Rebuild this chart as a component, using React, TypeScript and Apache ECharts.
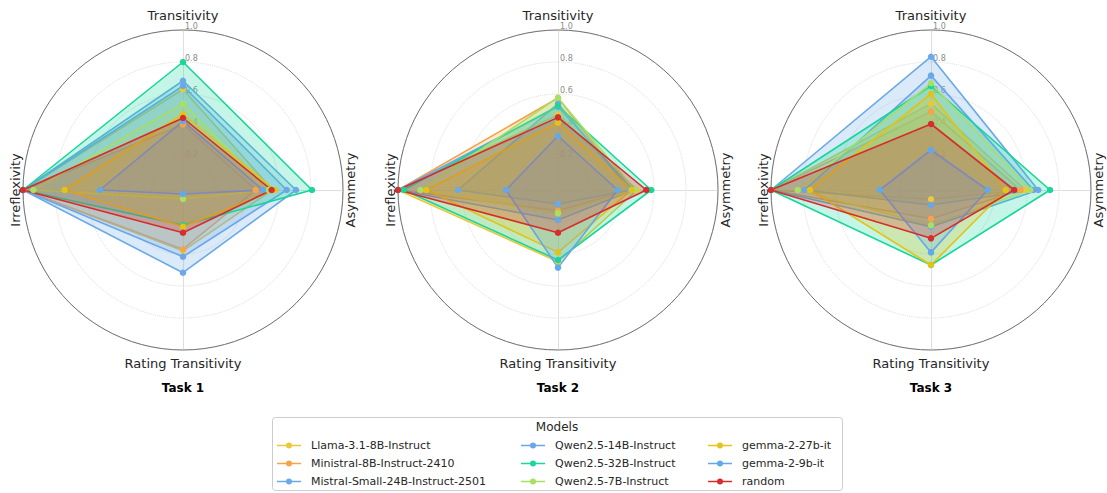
import React, { useEffect, useRef } from "react";
import * as echarts from "echarts";

// Indicator names as read clockwise from the top in the reference
const axisNames = ["Transitivity", "Asymmetry", "Rating Transitivity", "Irreflexivity"];
const taskTitles = ["Task 1", "Task 2", "Task 3"];
const radialTicks = ["0.2", "0.4", "0.6", "0.8", "1.0"];

const models = [
  "Llama-3.1-8B-Instruct",
  "Ministral-8B-Instruct-2410",
  "Mistral-Small-24B-Instruct-2501",
  "Qwen2.5-14B-Instruct",
  "Qwen2.5-32B-Instruct",
  "Qwen2.5-7B-Instruct",
  "gemma-2-27b-it",
  "gemma-2-9b-it",
  "random",
];

const modelColors = [
  "#E8C93A",
  "#F7A34B",
  "#6BAAE8",
  "#6CA6E6",
  "#19D69A",
  "#A8E063",
  "#E3C416",
  "#62A9EC",
  "#D62D2D",
];

// values per model: [Transitivity, Asymmetry, Rating Transitivity, Irreflexivity]
const task1Values = [
  [0.63, 0.56, 0.38, 1.0],
  [0.41, 0.454, 0.37, 1.0],
  [0.683, 0.706, 0.517, 1.0],
  [0.65, 0.648, 0.417, 1.0],
  [0.8, 0.806, 0.22, 1.0],
  [0.54, 0.533, 0.056, 0.935],
  [0.475, 0.575, 0.23, 0.74],
  [0.43, 0.5, 0.025, 0.52],
  [0.45, 0.554, 0.267, 1.0],
];

const task2Values = [
  [0.47, 0.494, 0.448, 1.0],
  [0.575, 0.45, 0.13, 1.0],
  [0.54, 0.45, 0.0875, 0.625],
  [0.52, 0.47, 0.1875, 1.0],
  [0.525, 0.583, 0.4375, 0.965],
  [0.577, 0.48, 0.146, 0.86],
  [0.42, 0.46, 0.39, 0.823],
  [0.3375, 0.373, 0.485, 0.325],
  [0.454, 0.552, 0.267, 1.0],
];

const task3Values = [
  [0.54, 0.59, 0.058, 1.0],
  [0.49, 0.56, 0.18, 1.0],
  [0.833, 0.67, 0.23, 1.0],
  [0.715, 0.64, 0.094, 0.79],
  [0.65, 0.744, 0.469, 1.0],
  [0.667, 0.62, 0.22, 0.833],
  [0.6, 0.467, 0.469, 0.756],
  [0.25, 0.354, 0.39, 0.32],
  [0.4125, 0.52, 0.302, 1.0],
];

const allTasks = [task1Values, task2Values, task3Values];

export default function App() {
  const ref = useRef<HTMLDivElement>(null);

  useEffect(() => {
    if (!ref.current) return;
    const chart = echarts.init(ref.current, null, { renderer: "svg" });

    const centersX = [183, 558, 931];
    const cy = 190;
    const R = 160;
    const font = "DejaVu Sans";

    // ECharts radar goes counter-clockwise from the top; reorder so the picture reads clockwise
    const order = [0, 3, 2, 1];
    const indicatorNames = order.map((i) => axisNames[i]);

    const mainRadars = centersX.map((cx) => ({
      center: [cx, cy],
      radius: R,
      startAngle: 90,
      shape: "circle",
      splitNumber: 5,
      indicator: indicatorNames.map((n, i) => ({
        name: n,
        min: 0,
        max: 1,
        axisLabel: { show: i === 0 },
      })),
      axisName: { show: false },
      axisLine: { show: true, lineStyle: { color: "#d8d8d8", type: "dotted", width: 1 } },
      splitLine: { show: true, lineStyle: { color: "#dcdcdc", type: "dotted", width: 1 } },
      splitArea: { show: false },
      axisTick: { show: false },
      axisLabel: {
        show: false,
        fontSize: 8,
        color: "#8a8a8a",
        fontFamily: font,
        showMinLabel: false,
        margin: -2,
        align: "left",
        verticalAlign: "bottom",
        formatter: (v: number) => {
          const s = Number(v).toFixed(1);
          return radialTicks.indexOf(s) >= 0 ? s : "";
        },
      },
    }));

    const outerRadars = centersX.map((cx) => ({
      center: [cx, cy],
      radius: R,
      startAngle: 90,
      shape: "circle",
      splitNumber: 1,
      indicator: indicatorNames.map((n) => ({ name: n, min: 0, max: 1 })),
      axisName: { show: false },
      axisLine: { show: false },
      splitLine: { show: true, lineStyle: { color: "#707070", width: 1 } },
      splitArea: { show: false },
      axisTick: { show: false },
      axisLabel: { show: false },
    }));

    const series: any[] = [];
    allTasks.forEach((vals, t) => {
      vals.forEach((v, m) => {
        series.push({
          type: "radar",
          radarIndex: t,
          name: models[m],
          symbol: "circle",
          symbolSize: 6.5,
          itemStyle: { color: modelColors[m], opacity: 1, borderWidth: 0 },
          lineStyle: { color: modelColors[m], width: 1.6 },
          areaStyle: { color: modelColors[m], opacity: 0.25 },
          data: [{ value: order.map((i) => v[i]), name: models[m] }],
        });
      });
    });

    const graphics: any[] = [];
    centersX.forEach((cx, t) => {
      const tx = (x: number, y: number, text: string, rot = 0, extra: any = {}) =>
        graphics.push({
          type: "text",
          x,
          y,
          rotation: rot,
          z: 10,
          style: {
            text,
            fontFamily: font,
            fontSize: 13,
            fill: "#262626",
            align: "center",
            verticalAlign: "middle",
            ...extra,
          },
        });
      tx(cx, 15, axisNames[0]);
      tx(cx + R + 7, cy, axisNames[1], Math.PI / 2);
      tx(cx, 363, axisNames[2]);
      tx(cx - R - 8, cy, axisNames[3], Math.PI / 2);
      tx(cx, 388, taskTitles[t], 0, { fontWeight: "bold", fontSize: 12, fill: "#000" });
    });

    graphics.push({
      type: "rect",
      z: 0,
      shape: { x: 272.5, y: 417.5, width: 570, height: 73, r: 3 },
      style: { fill: "#fff", stroke: "#cccccc", lineWidth: 1 },
    });
    graphics.push({
      type: "text",
      z: 10,
      x: 557,
      y: 427,
      style: {
        text: "Models",
        fontFamily: font,
        fontSize: 12,
        fill: "#262626",
        align: "center",
        verticalAlign: "middle",
      },
    });

    const iconPath = "path://M0,3.25H24V4.75H0Z M9,4A3,3 0 1,1 15,4A3,3 0 1,1 9,4Z";
    const legendLefts = [277, 521, 708];
    const legends = legendLefts.map((left, c) => ({
      data: models.slice(c * 3, c * 3 + 3),
      orient: "vertical",
      left,
      top: 440,
      padding: 0,
      itemWidth: 24,
      itemHeight: 14,
      itemGap: 7,
      icon: iconPath,
      selectedMode: false,
      z: 20,
      textStyle: {
        fontSize: 11,
        color: "#262626",
        fontFamily: font,
        padding: [0, 0, 0, 5],
      },
    }));

    chart.setOption({
      animation: false,
      backgroundColor: "#ffffff",
      textStyle: { fontFamily: font },
      radar: [...mainRadars, ...outerRadars],
      legend: legends,
      graphic: { elements: graphics },
      series,
    });

    return () => chart.dispose();
  }, []);

  return (
    <div
      ref={ref}
      style={{ position: "absolute", left: 0, top: 0, width: 1107, height: 493 }}
    />
  );
}
